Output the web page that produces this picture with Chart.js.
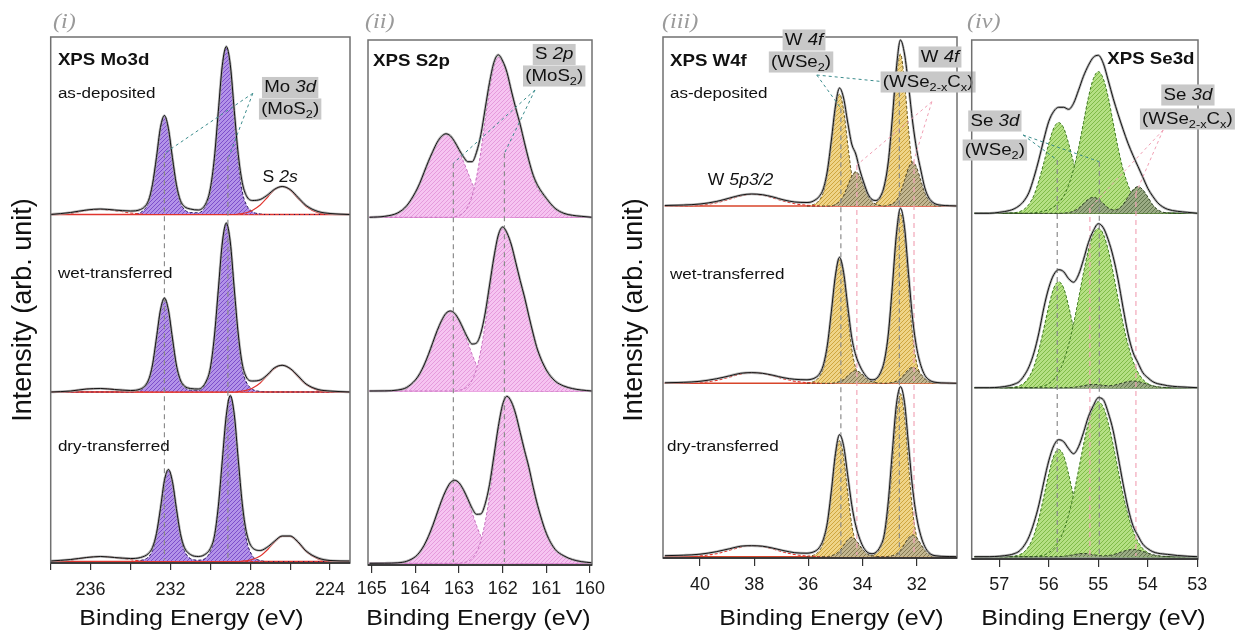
<!DOCTYPE html>
<html><head><meta charset="utf-8">
<script src="https://cdn.jsdelivr.net/npm/chart.js@4.4.1/dist/chart.umd.min.js"></script>
<style>
html,body{margin:0;padding:0;background:#fff}
#wrap{position:relative;width:1236px;height:634px;overflow:hidden;background:#fff}
canvas{position:absolute;left:0;top:0}
</style></head><body><div id="wrap">
<canvas id="p1" width="1236" height="634"></canvas>
<canvas id="p2" width="1236" height="634"></canvas>
<canvas id="p3" width="1236" height="634"></canvas>
<canvas id="p4" width="1236" height="634"></canvas>
</div>
<script>
// ---------------- DATA (arbitrary intensity units) ----------------
// Panel (i) Mo3d
const MO_E = [238.0,237.0,236.2,235.5,234.8,234.0,233.5,233.1,232.9,232.7,232.5,232.3,232.1,231.9,231.7,231.5,231.3,231.0,230.6,230.2,230.0,229.8,229.6,229.4,229.2,229.0,228.8,228.6,228.4,228.2,227.9,227.5,227.1,226.8,226.4,226.0,225.6,225.2,224.6,224.0,223.0];
const MO_TICKS = [236,232,228,224];
const MO_ENV_AS  = [0,2,4.5,5.5,4.5,3.5,5,14,30,57,87,99,86,57,30,14,8,5.5,4.5,12,26,56,103,149,168,150,104,60,32,19,14,15,20,25,28,25,17,9,3,1,0];
const MO_ENV_WET = [0,1,3,3.5,2.5,1.5,3,12,27,54,82,94,82,54,27,12,6,3.5,3,11,24,55,102,149,169,150,103,58,28,15,11,12,18,24,26.7,23.5,16,8,2.5,1,0];
const MO_ENV_DRY = [0.5,2,4,5,4,3,4,8,14,28,53,81,92,80,53,28,14,7,5,8,13,25,55,101,146,166,147,102,58,30,14,11,15,20,25.5,25.5,19.5,10.5,3.5,1,0.5];
const MO_3D_AS  = [0,0,0,0,0,0,2,12,28,55,85,99,85,55,28,12,5,2,1.7,10,23,53,100,147,167,147,100,53,23,10,3,0.5,0,0,0,0,0,0,0,0,0];
const MO_3D_WET = [0,0,0,0,0,0,2,11,26,53,81,94,81,53,26,11,5,2,1.7,10,23,54,101,148,168,148,101,54,23,10,3,0.5,0,0,0,0,0,0,0,0,0];
const MO_3D_DRY = [0,0,0,0,0,0,1,4.6,11,25.7,51,79,91.7,79,51,25.7,11,3,1.3,4,10,23,53,99,145,165,145,99,53,23,6,1,0,0,0,0,0,0,0,0,0];
const MO_S2S_AS  = [0,0,0,0,0,0,0,0,0,0,0,0,0,0,0,0,0,0,0,0,0,0,0,0,0,0,0,0.5,1,1.7,4,9.5,18,24.4,28,24.4,16,8,1.7,0.3,0];
const MO_S2S_WET = [0,0,0,0,0,0,0,0,0,0,0,0,0,0,0,0,0,0,0,0,0,0,0,0,0,0,0,0.5,1,1.6,3.7,9,17.4,23.2,26.7,23.2,15.2,7.5,1.6,0.3,0];
const MO_S2S_DRY = [0,0,0,0,0,0,0,0,0,0,0,0,0,0,0,0,0,0,0,0,0,0,0,0,0,0,0,0,0.5,0.8,2,5.5,12.5,19,25,25,19,10,2.6,0.5,0];
const MO_BUMP_AS  = [0,1,4,5,4,1.5,0.5,0,0,0,0,0,0,0,0,0,0,0,0,0,0,0,0,0,0,0,0,0,0,0,0,0,0,0,0,0,0,0,0,0,0];
const MO_BUMP_WET = [0,0.8,3,3.5,2.5,1,0.3,0,0,0,0,0,0,0,0,0,0,0,0,0,0,0,0,0,0,0,0,0,0,0,0,0,0,0,0,0,0,0,0,0,0];
const MO_BUMP_DRY = [0,1.5,4,5,4,2,0.5,0,0,0,0,0,0,0,0,0,0,0,0,0,0,0,0,0,0,0,0,0,0,0,0,0,0,0,0,0,0,0,0,0,0];
const MO_MARKS = [232.3,229.12];

// Panel (ii) S2p
const S_E = [165.05,164.7,164.4,164.2,164.0,163.9,163.8,163.7,163.6,163.5,163.4,163.3,163.2,163.1,163.0,162.9,162.8,162.7,162.6,162.5,162.4,162.3,162.2,162.1,162.0,161.9,161.8,161.7,161.6,161.5,161.4,161.3,161.2,161.0,160.8,160.6,160.4,160.2,159.95];
const S_TICKS = [165,164,163,162,161,160];
const S_ENV_AS  = [0,1,4.5,11.5,25,34,45,56,66,75,81,83.5,81.5,75.6,67.8,60.6,55.6,55.6,65,82.6,108.8,135,155,162.4,156.3,144.7,126.3,109,93,74.5,57,42,32,19,9,4,2,1,0];
const S_ENV_WET = [0,0.1,1,3.5,11,17.3,26,36.6,48.6,60.4,70.4,77.6,80,77.6,71,62,53,47,48,58,78,106,134,156,164,158,146,128.5,110.6,94,75,57,41,21,10,5,2.4,1,0];
const S_ENV_DRY = [0,0.1,0.5,2,6.6,11.2,18,27,38,50.4,62.7,73,80.5,83,80.5,73.7,64.5,55,49,49.4,59.5,79,107.6,136.7,159,167,161.4,149,131,113,96,76,58,30,14,7.5,3.7,1.7,0.5];
const S_P12_AS  = [0.1,0.7,4.2,11.2,25,34,45,56,66,75,81,83,81,75,66,56,45,34,25,17,11.2,7,4.2,2.4,1.3,0.7,0.3,0,0,0,0,0,0,0,0,0,0,0,0];
const S_P12_WET = [0,0.1,0.9,3.5,10.8,17.3,26,36.6,48.6,60.4,70.4,77.6,80,77.6,70.4,60.4,48.6,36.6,26,17.3,10.8,6.4,3.5,1.8,0.9,0.4,0.2,0,0,0,0,0,0,0,0,0,0,0,0];
const S_P12_DRY = [0,0.05,0.4,1.9,6.6,11.2,18,27,38,50.4,62.7,73,80.5,83,80.5,73,62.7,50.4,38,27,18,11.2,6.6,3.7,1.9,0.9,0.4,0.2,0,0,0,0,0,0,0,0,0,0,0];
const S_P32_AS  = [0,0,0,0,0,0,0,0,0,0,0,0,0,0.6,1.8,4.6,10.6,21.6,40,65.6,97.6,128,151,160,155,144,126,109,93,74,56,40,29,18,8,3.5,1.6,0.6,0];
const S_P32_WET = [0,0,0,0,0,0,0,0,0,0,0,0,0,0,0.7,1.8,4.7,10.8,22,40.8,66.8,99.4,130.4,154,163,158,146,128.5,110.6,94,75,57,41,21,9.8,4.9,2.4,1,0];
const S_P32_DRY = [0,0,0,0,0,0,0,0,0,0,0,0,0,0,0,0.7,1.8,4.8,11,22.4,41.5,68,101,133,157,166,161,149,131,113,96,76,58,30,14,7.5,3.7,1.7,0.5];
const S_MARKS = [163.13,161.96];

// Panel (iii) W4f
const W_ENV_E = [41.3,40.6,40.0,39.4,38.9,38.5,38.1,37.7,37.3,36.9,36.5,36.05,35.9,35.75,35.6,35.45,35.3,35.15,35.0,34.85,34.7,34.55,34.4,34.25,34.1,33.95,33.8,33.65,33.5,33.35,33.2,33.05,32.9,32.75,32.6,32.45,32.3,32.15,32.0,31.85,31.7,31.55,31.4,31.25,31.1,30.8,30.5];
const W_E = [36.05,35.9,35.75,35.6,35.45,35.3,35.15,35.0,34.85,34.7,34.55,34.4,34.25,34.1,33.95,33.8,33.65,33.5,33.35,33.2,33.05,32.9,32.75,32.6,32.45,32.3,32.15,32.0,31.85,31.7,31.55,31.4,31.25,31.1];
const W_BUMP_E = [41.3,40.6,40.0,39.4,38.9,38.5,38.1,37.7,37.3,36.9,36.5,36.05,35.6];
const W_TICKS = [40,38,36,34,32];
const W_ENV_AS  = [0.5,1,2,4.5,8,10.8,12,11.3,9,6,4, 3.5,4,6,9.5,17,35,66,100,118,108,84,62,52,36,23,12,6.5,5.5,9,20,44,88,138,166,152,120,84,56,36,18,8,3.5,1.5,0.8, 0.3,0];
const W_ENV_WET = [0.5,1,2,4.5,7.5,10,10.7,10,8,5.5,4, 3.5,4,5.5,9,18,38,72,108,126,111,78,46,28,17.5,10,5,3.5,4.5,10,22,49,97,149,175,156,109,64,35,18,8,3.5,1.5,0.8,0.4, 0.2,0];
const W_ENV_DRY = [1,1.5,2.5,5,8,10.5,11,10.5,8.5,6,4, 3.5,4,5.5,9,17,34,66,103,122,111,82,52,31,17.5,8.5,4,3,4.5,10,22,55,105,152,170,154,111,68,39,21,10,4,1.5,0.8,0.4, 0.2,0];
const W_WSE2_AS  = [0.2,0.8,2.2,5.6,13.4,31.4,62.7,96.3,112,96.3,62.7,31.4,13.4,5.6,2.2,1.1,1.3,3,7.6,18.2,42.6,85,131,152,124,76,36,15,6,2.5,1,0.3,0,0];
const W_WSE2_WET = [0.25,0.9,2.5,6.2,14.9,34.7,69.4,106.6,124,106.6,69.4,34.7,14.9,6.2,2.5,1.2,1.4,3.4,8.5,20.4,47.6,95.2,146.2,170,146.2,95.2,47.6,20.4,8.5,3.4,1.2,0.3,0,0];
const W_WSE2_DRY = [0.2,0.8,2.3,5.8,13.9,32.5,65,99.8,116,99.8,65,32.5,13.9,5.8,2.3,1.1,1.3,3.3,8.2,19.6,45.6,91.3,140,163,140,91.3,45.6,19.6,8.2,3.3,1.1,0.3,0,0];
const W_WSEC_AS  = [0,0,0,0,0,0,0,1.7,4.5,10.3,19.9,29.8,34.3,29.8,19.9,10.3,4.5,1.7,0.5,0,0.7,2.2,5.7,13.2,25.5,38.3,44,38.3,25.5,13.2,5.7,2.2,0.7,0];
const W_WSEC_WET = [0,0,0,0,0,0,0,0.6,1.7,3.8,7.4,11,12.7,11,7.4,3.8,1.7,0.6,0.2,0,0.2,0.8,2.1,4.8,9.3,13.9,16,13.9,9.3,4.8,2.1,0.8,0.2,0];
const W_WSEC_DRY = [0,0,0,0,0,0,1,2.5,5.8,11.2,16.8,19.3,16.8,11.2,5.8,2.5,1,0.3,0,0,0.3,1.1,2.8,6.5,12.6,18.9,21.7,18.9,12.6,6.5,2.8,1.1,0.3,0];
const W_5P_AS  = [0,0.1,0.8,3.2,6.9,10,11.7,10.9,8.1,4.8,2.3,0.8,0.2];
const W_5P_WET = [0,0.1,0.75,2.9,6.3,9.2,10.7,10,7.4,4.4,2.1,0.7,0.2];
const W_5P_DRY = [0,0.1,0.8,3,6.5,9.5,11,10.2,7.6,4.5,2.2,0.7,0.2];
const W_MARKS_WSE2 = [34.80,32.64];
const W_MARKS_WSEC = [34.21,32.10];

// Panel (iv) Se3d
const SE_E = [57.5,57.2,57.0,56.8,56.7,56.6,56.5,56.4,56.3,56.2,56.1,56.0,55.9,55.8,55.7,55.6,55.5,55.4,55.3,55.2,55.1,55.0,54.9,54.8,54.7,54.6,54.5,54.4,54.3,54.2,54.1,54.0,53.9,53.8,53.7,53.6,53.4,53.2,53.0];
const SE_TICKS = [57,56,55,54,53];
const SE_ENV_AS  = [0,0,1,2.7,4.5,7.5,12.5,21,36,54,74,92,102,106,106,104,110,123,137,148,156,158,150,133,115,99,84,70,58,47,36,25,17,10.5,6.5,4,2,1,0];
const SE_ENV_WET = [0,0,0.5,2,3.5,6,12,21,35,55,80,100,113,118,116,109,105.5,113,128,145,157,164,160,148,131,108,80,54,35.5,25,15,10,6,4,3,2,1,0.5,0];
const SE_ENV_DRY = [0,0,0.5,1.7,3,5.5,11,20,34,52,75,96,111,117,115,108,103,110,124,140,151,159,157,144,126,100,73,49,31,21,12.5,8,5,3.5,2.8,2.3,1.2,0.5,0];
const SE_D32_AS  = [0,0,0,0.2,0.5,1.5,4,9.1,18.1,32.7,50.8,69.8,85.3,90.7,85.3,69.8,50.8,32.7,18.1,9.1,4,1.5,0.5,0.2,0,0,0,0,0,0,0,0,0,0,0,0,0,0,0];
const SE_D32_WET = [0,0,0,0.2,0.6,1.8,4.7,10.6,21.2,38.2,59.4,81.6,99.6,106,99.6,81.6,59.4,38.2,21.2,10.6,4.7,1.8,0.6,0.2,0,0,0,0,0,0,0,0,0,0,0,0,0,0,0];
const SE_D32_DRY = [0,0,0,0.2,0.6,1.8,4.7,10.7,21.5,38.6,60.1,82.6,100.9,107.3,100.9,82.6,60.1,38.6,21.5,10.7,4.7,1.8,0.6,0.2,0,0,0,0,0,0,0,0,0,0,0,0,0,0,0];
const SE_D52_AS  = [0,0,0,0,0,0,0,0,0.5,1.1,2.3,3.5,6.4,10.6,17,28.3,43.9,65.2,90.7,116,134.6,141.7,134.6,116,90.7,65.2,43.9,28.3,17,10.6,6.4,3.5,2.3,1.1,0.5,0.2,0,0,0];
const SE_D52_WET = [0,0,0,0,0,0,0,0,0,0.8,1.8,4.1,8.3,15.5,26.6,43,63.8,88.9,114.8,137.7,153.7,159.4,153.7,137.7,114.8,88.9,63.8,43,26.6,15.5,8.3,4.1,1.8,0.8,0.3,0,0,0,0];
const SE_D52_DRY = [0,0,0,0,0,0,0,0,0,0.8,1.7,4,8.1,15,25.9,41.9,62,86.5,111.6,133.9,149.4,155,149.4,133.9,111.6,86.5,62,41.9,25.9,15,8.1,4,1.7,0.8,0.3,0,0,0,0];
const SE_C_AS  = [0,0,0,0,0,0,0,0,0,0,0,0,0,0,0.2,0.7,2.2,5.1,9.8,14.1,16,14.1,9.8,5.4,3.4,4.3,8.7,16.3,23.5,26.7,23.5,16.3,8.5,3.6,1.2,0.3,0,0,0];
const SE_C_WET = [0,0,0,0,0,0,0,0,0,0,0,0,0,0,0,0.15,0.4,1.1,2,2.9,3.3,3,2.4,2,2.3,3.5,4.9,6.2,6.7,6.2,4.9,3.3,1.9,0.9,0.4,0.1,0,0,0];
const SE_C_DRY = [0,0,0,0,0,0,0,0,0,0,0,0,0,0.15,0.4,1.1,2,2.9,3.3,2.9,2,1.25,0.8,1.15,2,3.6,5.3,6.7,7.3,6.7,5.3,3.6,2,1,0.4,0.15,0,0,0];
const SE_MARKS_WSE2 = [55.83,54.98];
const SE_MARKS_WSEC = [55.17,54.24];

// ---------------- STYLE / LAYOUT ----------------
const FONT = "'Liberation Sans', Arial, Helvetica, sans-serif";
const SERIF = "'Liberation Serif', 'Times New Roman', serif";
const SX = 1.1;
const XH = 50;
function hatch(base, line){
  const c=document.createElement('canvas'); c.width=4; c.height=4;
  const g=c.getContext('2d'); g.fillStyle=base; g.fillRect(0,0,4,4);
  g.fillStyle=line; for(let i=0;i<4;i++){ g.fillRect(i,3-i,1,1); }
  return g.createPattern(c,'repeat');
}
const C = {
  env:'#141414', raw:'rgba(165,165,165,0.8)', mark:'#8c8c8c', pinkMark:'#f2a6b8', teal:'#3b8c8c', pinkLead:'#f0a0b4',
  moFill:hatch('#b393e8','#7d4fcb'), moEdge:'#2a1b58', red:'#e0342e',
  sFill:hatch('#f6c4f1','#e59bdc'), sEdge:'#c873c0', sBase:'#e58ad8',
  wFill:hatch('#efd488','#cfa63f'), wEdge:'#6b5a22', wDark:hatch('#c2b690','#877a52'), wDarkEdge:'#4e4528', wBase:'#d8452a',
  gFill:hatch('#b5e084','#80bb48'), gEdge:'#3f7a22', gDark:hatch('#9aab84','#62764e'), gDarkEdge:'#34462a', gBase:'#2d4a1e'
};

function P(E, V, off){ return E.map((e,i)=>({x:e, y:V[i]+off})); }
function area(E,V,off,fill,edge,order){
  return {data:P(E,V,off), fill:{value:off}, backgroundColor:fill, borderColor:edge, borderWidth:1, borderDash:[3,2],
          pointRadius:0, cubicInterpolationMode:'monotone', order:order};
}
function curve(E,V,off,color,width,order,dash){
  return {data:P(E,V,off), fill:false, borderColor:color, borderWidth:width, borderDash:dash||[], pointRadius:0,
          cubicInterpolationMode:'monotone', order:order};
}
function seg(x1,y1,x2,y2,color,dash,width,order){
  return {data:[{x:x1,y:y1},{x:x2,y:y2}], fill:false, borderColor:color, borderDash:dash, borderWidth:width,
          pointRadius:0, tension:0, order:order};
}

function buildP1(){
  const ds=[], off=[348.5,171,1.5];
  const env=[MO_ENV_AS,MO_ENV_WET,MO_ENV_DRY], pk=[MO_3D_AS,MO_3D_WET,MO_3D_DRY],
        s2=[MO_S2S_AS,MO_S2S_WET,MO_S2S_DRY], bp=[MO_BUMP_AS,MO_BUMP_WET,MO_BUMP_DRY];
  off.forEach((o,k)=>{
    ds.push(seg(MO_E[0],o,MO_E[MO_E.length-1],o,C.red,[],1.6,8));
    ds.push(area(MO_E,pk[k],o,C.moFill,C.moEdge,6));
    ds.push(curve(MO_E,s2[k],o,C.red,1.1,5));
    ds.push(curve(MO_E,bp[k],o,C.red,1.1,5,[3,2]));
    ds.push(curve(MO_E,env[k],o,C.raw,2.6,2));
    ds.push(curve(MO_E,env[k],o,C.env,1,1));
  });
  const tops=[409.7,406.3];
  MO_MARKS.forEach((e,i)=>ds.push(seg(e,tops[i],e,3,C.mark,[5,4],1.2,3)));
  ds.push(seg(227.87,469.7,MO_MARKS[0],tops[0],C.teal,[3,3],1,0));
  ds.push(seg(227.87,469.7,229.07,tops[1],C.teal,[3,3],1,0));
  return ds;
}
function buildP2(){
  const ds=[], off=[347.7,174,1.7];
  const env=[S_ENV_AS,S_ENV_WET,S_ENV_DRY], a=[S_P12_AS,S_P12_WET,S_P12_DRY], b=[S_P32_AS,S_P32_WET,S_P32_DRY];
  off.forEach((o,k)=>{
    ds.push(seg(S_E[0],o,S_E[S_E.length-1],o,C.sBase,[],1.4,8));
    ds.push(area(S_E,a[k],o,C.sFill,C.sEdge,6));
    ds.push(area(S_E,b[k],o,C.sFill,C.sEdge,5));
    ds.push(curve(S_E,env[k],o,C.raw,2.6,2));
    ds.push(curve(S_E,env[k],o,C.env,1,1));
  });
  const tops=[401.7,411.7];
  S_MARKS.forEach((e,i)=>ds.push(seg(e,tops[i],e,3,C.mark,[5,4],1.2,3)));
  ds.push(seg(161.26,475,S_MARKS[0],tops[0],C.teal,[3,3],1,0));
  ds.push(seg(161.26,475,S_MARKS[1],tops[1],C.teal,[3,3],1,0));
  return ds;
}
function buildP3(){
  const ds=[], off=[352,174.7,1.3];
  const env=[W_ENV_AS,W_ENV_WET,W_ENV_DRY], y=[W_WSE2_AS,W_WSE2_WET,W_WSE2_DRY], d=[W_WSEC_AS,W_WSEC_WET,W_WSEC_DRY], bp=[W_5P_AS,W_5P_WET,W_5P_DRY];
  off.forEach((o,k)=>{
    ds.push(seg(W_ENV_E[0],o,W_ENV_E[W_ENV_E.length-1],o,C.wBase,[],1.6,8));
    ds.push(area(W_E,y[k],o,C.wFill,C.wEdge,6));
    ds.push(area(W_E,d[k],o,C.wDark,C.wDarkEdge,5));
    ds.push(curve(W_BUMP_E,bp[k],o,C.red,1.1,4,[3,2]));
    ds.push(curve(W_ENV_E,env[k],o,C.raw,2.6,2));
    ds.push(curve(W_ENV_E,env[k],o,C.env,1,1));
  });
  const tg=[449.7,474.7], tp=[393,398];
  W_MARKS_WSE2.forEach((e,i)=>ds.push(seg(e,tg[i],e,3,C.mark,[5,4],1.2,3)));
  W_MARKS_WSEC.forEach((e,i)=>ds.push(seg(e,tp[i],e,3,C.pinkMark,[5,4],1.2,3)));
  ds.push(seg(35.69,483,W_MARKS_WSE2[0],tg[0],C.teal,[3,3],1,0));
  ds.push(seg(35.69,483,W_MARKS_WSE2[1],tg[1],C.teal,[3,3],1,0));
  ds.push(seg(31.44,456.3,W_MARKS_WSEC[0],tp[0],C.pinkLead,[3,3],1,0));
  ds.push(seg(31.44,456.3,W_MARKS_WSEC[1],tp[1],C.pinkLead,[3,3],1,0));
  return ds;
}
function buildP4(){
  const ds=[], off=[345.7,171.3,2.3];
  const env=[SE_ENV_AS,SE_ENV_WET,SE_ENV_DRY], s=[SE_D32_AS,SE_D32_WET,SE_D32_DRY], b=[SE_D52_AS,SE_D52_WET,SE_D52_DRY], d=[SE_C_AS,SE_C_WET,SE_C_DRY];
  off.forEach((o,k)=>{
    ds.push(seg(SE_E[0],o,SE_E[SE_E.length-1],o,C.gBase,[],1.4,8));
    ds.push(area(SE_E,s[k],o,C.gFill,C.gEdge,6));
    ds.push(area(SE_E,b[k],o,C.gFill,C.gEdge,5));
    ds.push(area(SE_E,d[k],o,C.gDark,C.gDarkEdge,4));
    ds.push(curve(SE_E,env[k],o,C.raw,2.6,2));
    ds.push(curve(SE_E,env[k],o,C.env,1,1));
  });
  const tg=[399,397.3], tp=[351,366];
  SE_MARKS_WSE2.forEach((e,i)=>ds.push(seg(e,tg[i],e,3,C.mark,[5,4],1.2,3)));
  SE_MARKS_WSEC.forEach((e,i)=>ds.push(seg(e,tp[i],e,3,C.pinkMark,[5,4],1.2,3)));
  ds.push(seg(56.52,424,SE_MARKS_WSE2[0],tg[0],C.teal,[3,3],1,0));
  ds.push(seg(56.52,424,SE_MARKS_WSE2[1],tg[1],C.teal,[3,3],1,0));
  ds.push(seg(53.69,429,SE_MARKS_WSEC[0],tp[0],C.pinkLead,[3,3],1,0));
  ds.push(seg(53.69,429,SE_MARKS_WSEC[1],tp[1],C.pinkLead,[3,3],1,0));
  return ds;
}

const BG = '#c8c8c8';
const SUB2 = [['(MoS',''],['2','s'],[')','']];
const WSE2 = [['(WSe',''],['2','s'],[')','']];
const WSEC = [['(WSe',''],['2-x','s'],['C',''],['x','s'],[')','']];
const XT = 'Binding Energy (eV)', YT = 'Intensity (arb. unit)';
const TEXTS = {
  p1:[
    {E:237.64,v:503,runs:[['XPS Mo3d','b']],size:17},
    {E:237.64,v:469,runs:[['as-deposited','']],size:15.5},
    {E:237.64,v:289,runs:[['wet-transferred','']],size:15.5},
    {E:237.64,v:116,runs:[['dry-transferred','']],size:15.5},
    {E:226.0,v:475.5,runs:[['Mo ',''],['3d','i']],size:17,align:'center',bg:BG},
    {E:226.0,v:454,runs:SUB2,size:17,align:'center',bg:BG},
    {E:226.5,v:385,runs:[['S ',''],['2s','i']],size:16,align:'center'},
    {px:53,py:22,runs:[['(i)','i']],size:22,serif:true,color:'#9a9a9a'},
    {px:191.5,py:619,runs:[[XT,'']],size:22.8,align:'center'},
    {px:24,py:310,rot:true,runs:[[YT,'']],size:27,align:'center'}
  ],
  p2:[
    {E:164.97,v:504,runs:[['XPS S2p','b']],size:17},
    {E:160.82,v:510.5,runs:[['S ',''],['2p','i']],size:17,align:'center',bg:BG},
    {E:160.82,v:489,runs:SUB2,size:17,align:'center',bg:BG},
    {px:365,py:22,runs:[['(ii)','i']],size:22,serif:true,color:'#9a9a9a'},
    {px:478.5,py:619,runs:[[XT,'']],size:22.8,align:'center'}
  ],
  p3:[
    {E:41.11,v:497,runs:[['XPS W4f','b']],size:17},
    {E:41.11,v:464,runs:[['as-deposited','']],size:15.5},
    {E:41.11,v:283,runs:[['wet-transferred','']],size:15.5},
    {E:41.22,v:111,runs:[['dry-transferred','']],size:15.5},
    {E:38.5,v:377,runs:[['W ',''],['5p3/2','i']],size:16,align:'center'},
    {E:36.16,v:518,runs:[['W ',''],['4f','i']],size:17,align:'center',bg:BG},
    {E:36.27,v:496,runs:WSE2,size:17,align:'center',bg:BG},
    {E:31.14,v:501,runs:[['W ',''],['4f','i']],size:17,align:'center',bg:BG},
    {E:31.58,v:476,runs:WSEC,size:17,align:'center',bg:BG},
    {px:662,py:22,runs:[['(iii)','i']],size:22,serif:true,color:'#9a9a9a'},
    {px:831.5,py:619,runs:[[XT,'']],size:22.8,align:'center'},
    {px:635,py:310,rot:true,runs:[[YT,'']],size:27,align:'center'}
  ],
  p4:[
    {E:54.82,v:500,runs:[['XPS Se3d','b']],size:17},
    {E:57.09,v:438,runs:[['Se ',''],['3d','i']],size:17,align:'center',bg:BG},
    {E:57.09,v:409,runs:WSE2,size:17,align:'center',bg:BG},
    {E:53.19,v:464,runs:[['Se ',''],['3d','i']],size:17,align:'center',bg:BG},
    {E:53.2,v:440,runs:WSEC,size:17,align:'center',bg:BG},
    {px:967,py:22,runs:[['(iv)','i']],size:22,serif:true,color:'#9a9a9a'},
    {px:1093.5,py:619,runs:[[XT,'']],size:22.8,align:'center'}
  ]
};

function fontOf(style,size,serif){
  const fam = serif?SERIF:FONT;
  if(style==='b') return 'bold '+size+'px '+fam;
  if(style==='i') return 'italic '+size+'px '+fam;
  if(style==='s') return (size*0.68).toFixed(1)+'px '+fam;
  return size+'px '+fam;
}
function drawRuns(ctx,x,y,it){
  const size=it.size, sx = it.rot?1:SX;
  ctx.save();
  let w=0;
  const ws = it.runs.map(r=>{ctx.font=fontOf(r[1],size,it.serif); const m=ctx.measureText(r[0]).width; w+=m; return m;});
  ctx.translate(x,y);
  if(it.rot) ctx.rotate(-Math.PI/2);
  ctx.scale(sx,1);
  const left = it.align==='center' ? -w/2 : 0;
  if(it.bg){ ctx.fillStyle=it.bg; ctx.fillRect(left-2,-size*0.62,w+4,size*1.24); }
  ctx.fillStyle = it.color||'#111';
  ctx.textBaseline='middle'; ctx.textAlign='left';
  let cx=left;
  it.runs.forEach((r,i)=>{ ctx.font=fontOf(r[1],size,it.serif); ctx.fillText(r[0],cx,r[1]==='s'?size*0.32:0); cx+=ws[i]; });
  ctx.restore();
}
const framePlugin = {id:'frame', afterDraw(chart){
  const a=chart.chartArea, ctx=chart.ctx;
  ctx.save(); ctx.strokeStyle='#707070'; ctx.lineWidth=1.5;
  ctx.strokeRect(a.left,a.top,a.right-a.left,a.bottom-a.top);
  ctx.strokeStyle='#222'; ctx.beginPath(); ctx.moveTo(a.left,a.bottom); ctx.lineTo(a.right,a.bottom); ctx.stroke();
  ctx.restore();
}};
const textPlugin = {id:'texts', afterDraw(chart){
  const items=TEXTS[chart.canvas.id]; if(!items) return;
  const xs=chart.scales.x, ys=chart.scales.y;
  items.forEach(it=>{
    const x = it.px!==undefined ? it.px : xs.getPixelForValue(it.E);
    const y = it.py!==undefined ? it.py : ys.getPixelForValue(it.v);
    drawRuns(chart.ctx,x,y,it);
  });
}};

const PANELS = [
  {id:'p1', area:{l:50.7,t:37,r:350,b:563}, xr:[223,238], step:2, yMax:526, tl:7, pad:9.2, fs:18, labels:MO_TICKS, build:buildP1},
  {id:'p2', area:{l:368,t:40,r:592,b:565}, xr:[159.954,165.085], step:1, yMax:525, tl:8, pad:5.7, fs:18, labels:S_TICKS, build:buildP2},
  {id:'p3', area:{l:663,t:37,r:957,b:558}, xr:[30.513,41.366], step:2, yMax:521, tl:8, pad:8.2, fs:18, labels:W_TICKS, build:buildP3},
  {id:'p4', area:{l:971.7,t:40,r:1198,b:559}, xr:[52.986,57.558], step:1, yMax:519, tl:8, pad:7.2, fs:18, labels:SE_TICKS, build:buildP4}
];

PANELS.forEach(s=>{
  const a=s.area;
  new Chart(document.getElementById(s.id), {
    type:'line',
    data:{datasets:s.build()},
    options:{
      responsive:false, animation:false, devicePixelRatio:1,
      layout:{padding:{left:a.l, top:a.t, right:1236-a.r, bottom:634-a.b-XH}},
      plugins:{legend:{display:false}, tooltip:{enabled:false}},
      scales:{
        x:{type:'linear', reverse:true, min:s.xr[0], max:s.xr[1],
           afterFit:(sc)=>{sc.height=XH;},
           ticks:{stepSize:s.step, includeBounds:false, autoSkip:false, maxRotation:0, minRotation:0, padding:s.pad,
                  color:'#1a1a1a', font:{family:FONT,size:s.fs},
                  callback:(v)=> s.labels.some(t=>Math.abs(t-v)<1e-6) ? String(Math.round(v)) : ''},
           grid:{display:true, drawOnChartArea:false, drawTicks:true, tickLength:s.tl, color:'#333', lineWidth:1.2},
           border:{display:false}},
        y:{type:'linear', display:false, min:0, max:s.yMax}
      }
    },
    plugins:[framePlugin, textPlugin]
  });
});
</script></body></html>
